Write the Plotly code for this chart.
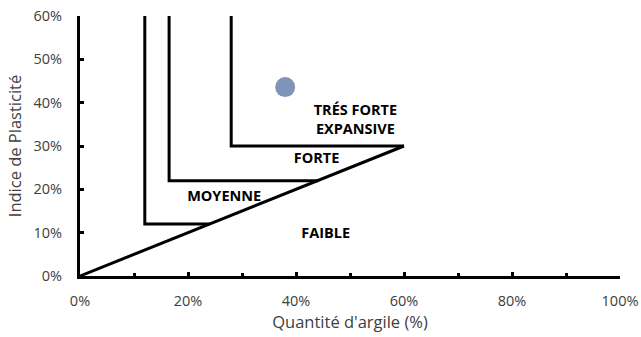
import plotly.graph_objects as go

# Classification boundaries (fraction units)
diag_x = [0.0, 0.60]
diag_y = [0.0, 0.30]
slope = 0.5

limit_x = [0.12, 0.165, 0.28]   # vertical boundaries
limit_y = [0.12, 0.22, 0.30]    # horizontal boundaries
y_top = 0.60

# Sample
sample_x = [0.38]
sample_y = [0.436]

# Zone labels
zone_text = ["TRÉS FORTE<br>EXPANSIVE", "FORTE", "MOYENNE", "FAIBLE"]
zone_x = [0.51, 0.438, 0.267, 0.455]
zone_y = [0.358, 0.27, 0.182, 0.095]

x_ticks = [0, 0.2, 0.4, 0.6, 0.8, 1.0]
x_labels = ["0%", "20%", "40%", "60%", "80%", "100%"]
y_ticks = [0, 0.1, 0.2, 0.3, 0.4, 0.5, 0.6]
y_labels = ["0%", "10%", "20%", "30%", "40%", "50%", "60%"]

line_style = dict(color="black", width=3)
text_grey = "#404040"

fig = go.Figure()
fig.add_trace(go.Scatter(x=diag_x, y=diag_y, mode="lines", line=line_style,
                         hoverinfo="skip", showlegend=False))
for lx, ly in zip(limit_x, limit_y):
    fig.add_trace(go.Scatter(x=[lx, lx, ly / slope], y=[y_top, ly, ly],
                             mode="lines", line=line_style,
                             hoverinfo="skip", showlegend=False))

fig.add_trace(go.Scatter(x=sample_x, y=sample_y, mode="markers",
                         marker=dict(size=20, color="#8093b9"),
                         showlegend=False))

fig.add_trace(go.Scatter(x=zone_x, y=zone_y, mode="text", text=zone_text,
                         textfont=dict(family="Open Sans", size=14.5, color="black",
                                       weight="bold"),
                         hoverinfo="skip", showlegend=False))

tick_font = dict(family="Open Sans", size=14.5, color=text_grey)
title_font = dict(family="Open Sans", size=16.5, color=text_grey)

fig.update_layout(
    width=641, height=337,
    margin=dict(l=80, r=21, t=16, b=61, autoexpand=False),
    paper_bgcolor="white", plot_bgcolor="white",
    xaxis=dict(range=[0, 1], tickvals=x_ticks, ticktext=x_labels,
               showgrid=False, zeroline=False, automargin=False,
               showline=True, linecolor="black", linewidth=3,
               ticks="inside", ticklen=4, tickwidth=3, tickcolor="black",
               minor=dict(dtick=0.1, ticks="inside", ticklen=3, tickwidth=3,
                          tickcolor="black", showgrid=False),
               tickfont=tick_font, ticklabelstandoff=10,
               title=dict(text="Quantité d'argile (%)", standoff=8, font=title_font)),
    yaxis=dict(range=[0, 0.6], tickvals=y_ticks, ticktext=y_labels,
               showgrid=False, zeroline=False, automargin=False,
               showline=True, linecolor="black", linewidth=3,
               ticks="inside", ticklen=4, tickwidth=3, tickcolor="black",
               tickfont=tick_font, ticklabelstandoff=12,
               title=dict(text="Indice de Plasticité", standoff=8, font=title_font)),
)

fig.write_html("out.html")
